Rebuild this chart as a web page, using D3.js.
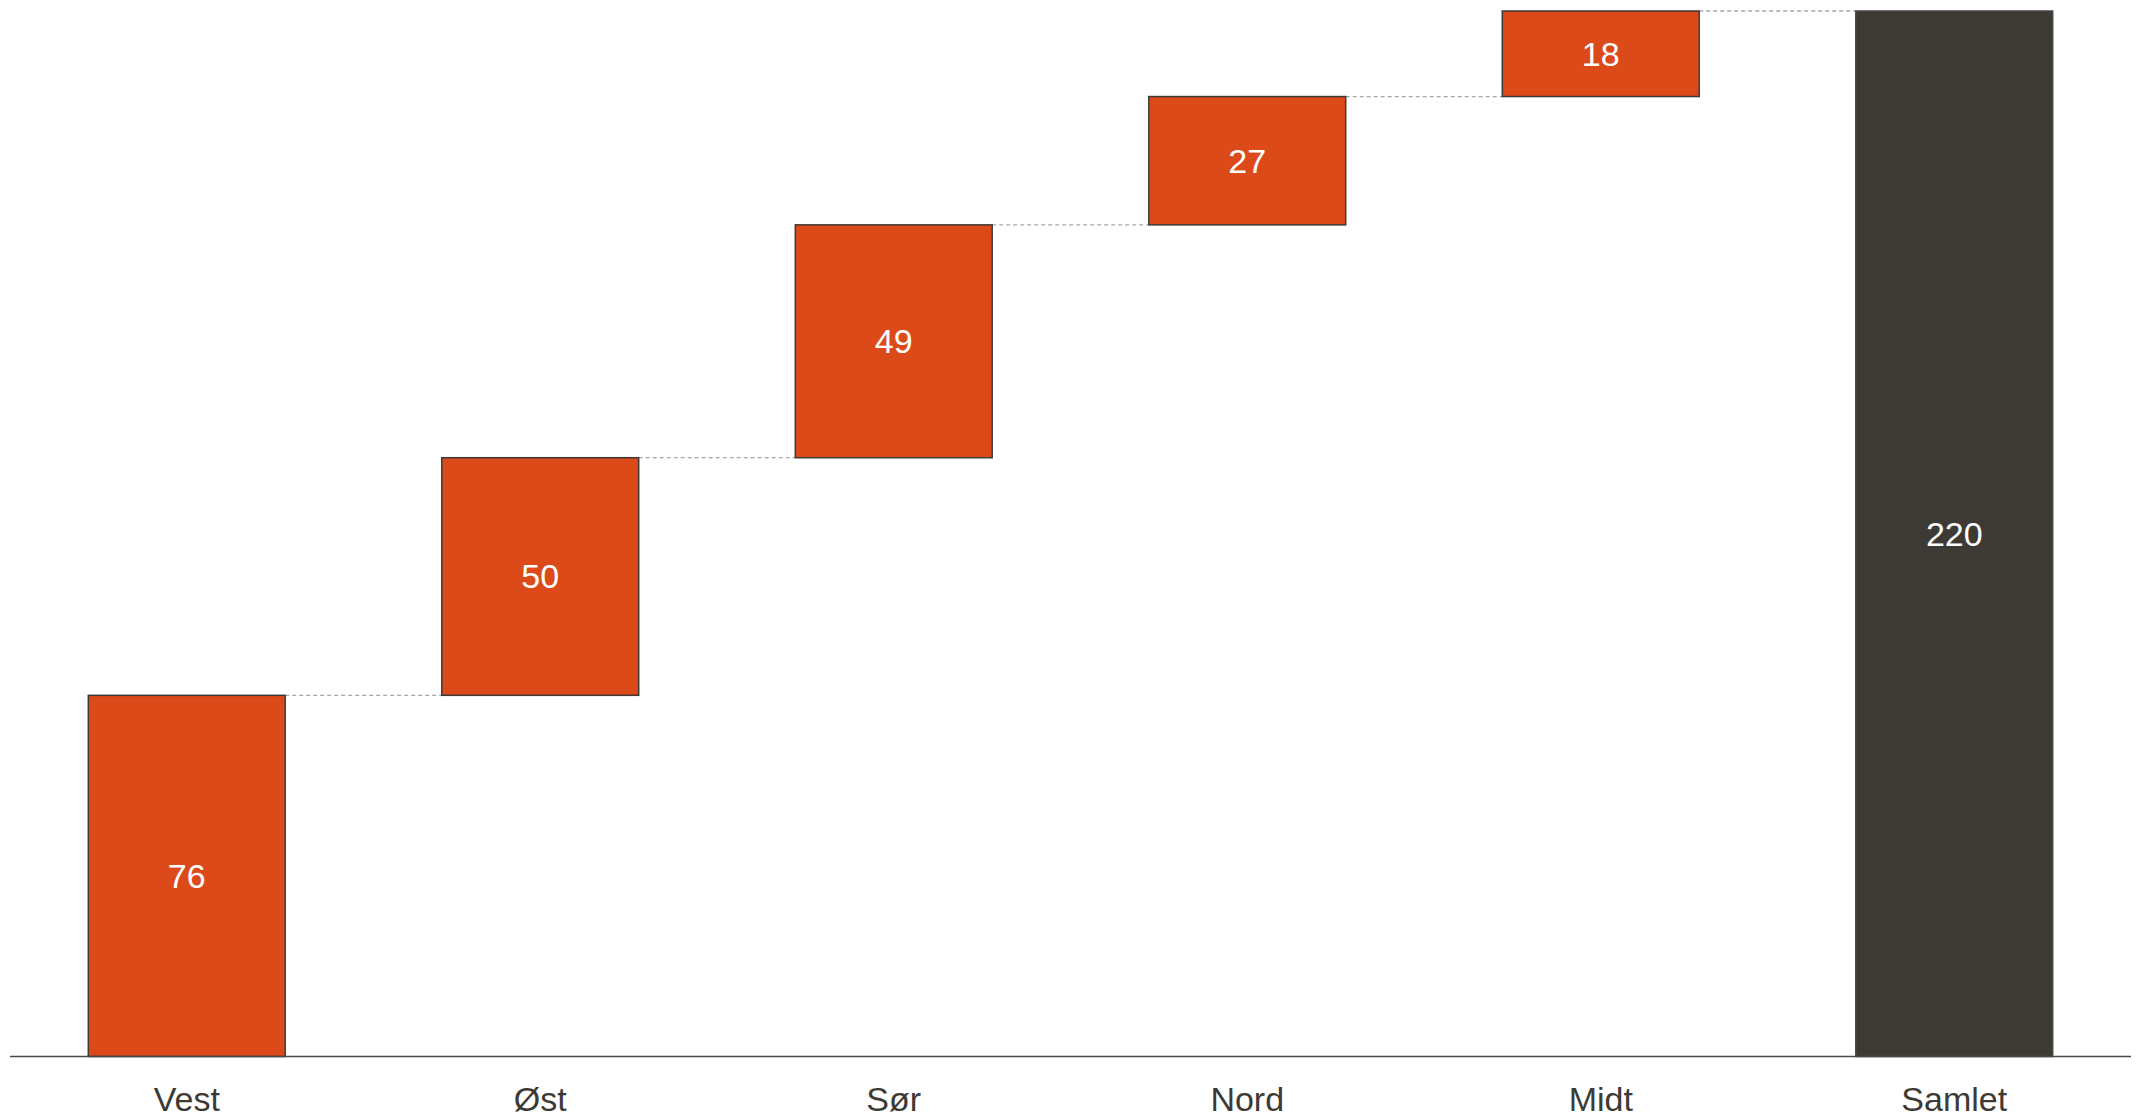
<!DOCTYPE html>
<html lang="no">
<head>
<meta charset="UTF-8">
<title>Fossefall</title>
<style>
  body { margin: 0; background: #fff; }
  text { font-family: "Liberation Sans", Arial, sans-serif; }
</style>
</head>
<body>
<svg id="chart" width="2141" height="1116"></svg>
<script src="https://cdn.jsdelivr.net/npm/d3@7"></script>
<script>
  const categories = ['Vest', 'Øst', 'Sør', 'Nord', 'Midt', 'Samlet'];
  const values = [76, 50, 49, 27, 18, 220];
  const isTotal = [false, false, false, false, false, true];

  const svg = d3.select('#chart');
  const baseY = 1056.5, topY = 11;

  const x = d3.scaleBand().domain(categories).range([10, 2131])
    .paddingInner(0.443).paddingOuter(0.2215);
  const y = d3.scaleLinear().domain([0, 220]).range([baseY, topY]);

  // running totals for the waterfall
  let run = 0;
  const bars = categories.map((c, i) => {
    let start, end;
    if (isTotal[i]) { start = 0; end = values[i]; }
    else { start = run; end = run + values[i]; run = end; }
    return { cat: c, value: values[i], start, end, total: isTotal[i] };
  });

  // connector lines
  const links = bars.slice(0, -1).map((b, i) => ({ from: b, to: bars[i + 1] }));
  svg.append('g').selectAll('line').data(links).join('line')
    .attr('x1', d => x(d.from.cat) + x.bandwidth())
    .attr('x2', d => x(d.to.cat))
    .attr('y1', d => y(d.from.end))
    .attr('y2', d => y(d.from.end))
    .attr('stroke', '#a8a8a8')
    .attr('stroke-width', 1.3)
    .attr('stroke-dasharray', '4,3');

  svg.append('g').selectAll('rect').data(bars).join('rect')
    .attr('x', d => x(d.cat))
    .attr('width', x.bandwidth())
    .attr('y', d => y(d.end))
    .attr('height', d => y(d.start) - y(d.end))
    .attr('fill', d => d.total ? '#3d3a35' : '#dc4a1a')
    .attr('stroke', d => d.total ? '#4a4742' : '#3d3a35')
    .attr('stroke-width', 1.5);

  svg.append('g').selectAll('text').data(bars).join('text')
    .attr('x', d => x(d.cat) + x.bandwidth() / 2)
    .attr('y', d => (y(d.start) + y(d.end)) / 2)
    .attr('dy', '0.35em')
    .attr('text-anchor', 'middle')
    .attr('fill', '#fff')
    .attr('font-size', 34)
    .text(d => d.value);

  const xAxis = svg.append('g')
    .attr('transform', `translate(0,${baseY})`)
    .call(d3.axisBottom(x).tickSize(0).tickPadding(30));
  xAxis.select('.domain').attr('stroke', '#4d4a45').attr('stroke-width', 1.5)
    .attr('d', `M10,0H2131`);
  xAxis.selectAll('text')
    .attr('font-size', 34)
    .attr('font-family', '"Liberation Sans", Arial, sans-serif')
    .attr('fill', '#3d3a35');
</script>
</body>
</html>
